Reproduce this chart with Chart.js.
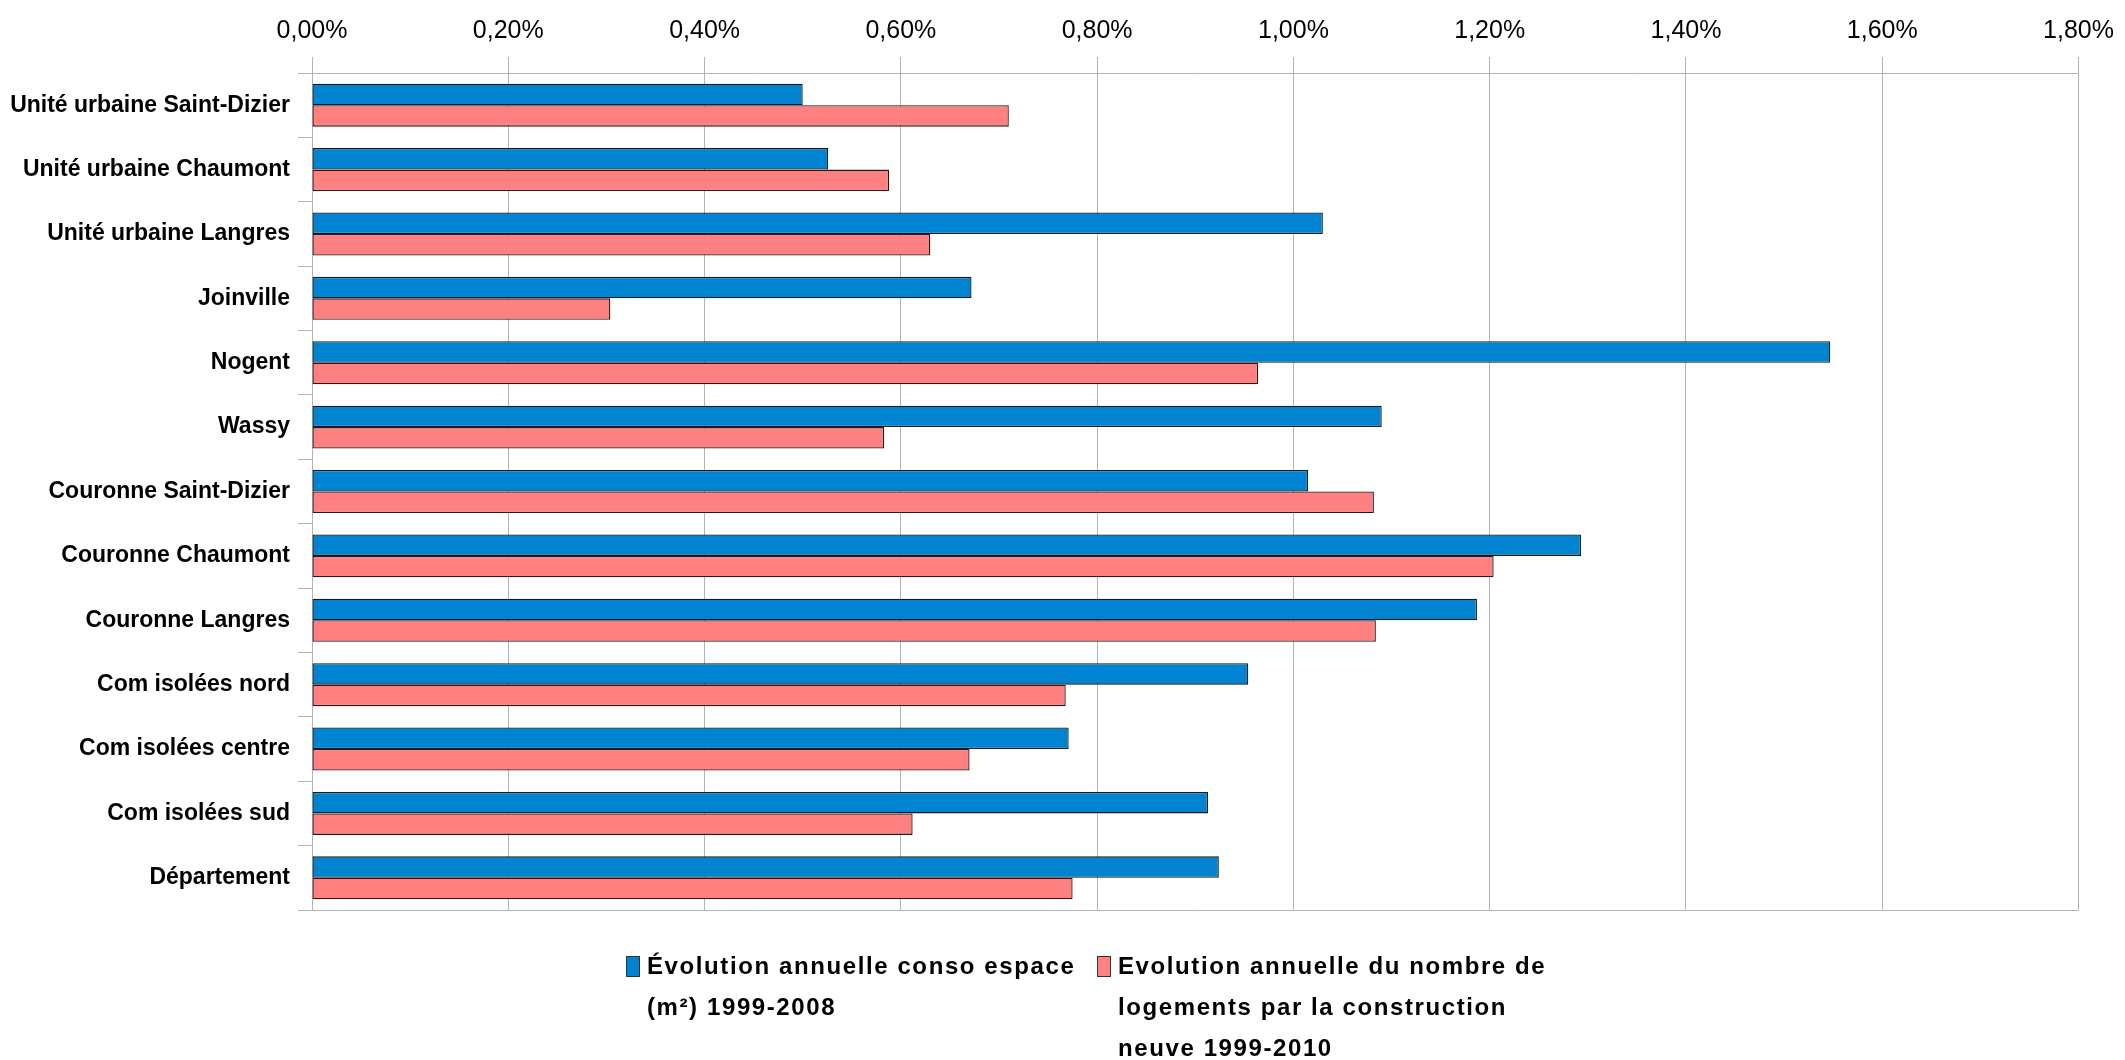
<!DOCTYPE html>
<html lang="fr">
<head>
<meta charset="utf-8">
<title>Évolution annuelle de la consommation d'espace et des logements neufs</title>
<script src="https://cdn.jsdelivr.net/npm/chart.js@4/dist/chart.umd.min.js"></script>
<style>
  html, body { margin: 0; padding: 0; background: #ffffff; }
  #wrap { position: relative; width: 2125px; height: 1060px; }
</style>
</head>
<body>
<div id="wrap"><canvas id="chart"></canvas></div>
<script>
// Territoires (ordre d'affichage, de haut en bas)
const categories = [
  'Unité urbaine Saint-Dizier',
  'Unité urbaine Chaumont',
  'Unité urbaine Langres',
  'Joinville',
  'Nogent',
  'Wassy',
  'Couronne Saint-Dizier',
  'Couronne Chaumont',
  'Couronne Langres',
  'Com isolées nord',
  'Com isolées centre',
  'Com isolées sud',
  'Département'
];

// Évolution annuelle de la consommation d'espace (m²), 1999-2008, en %
const consoEspace = [0.50, 0.526, 1.03, 0.672, 1.547, 1.09, 1.015, 1.293, 1.187, 0.954, 0.771, 0.913, 0.924];

// Évolution annuelle du nombre de logements par la construction neuve, 1999-2010, en %
const logementsNeufs = [0.71, 0.588, 0.63, 0.304, 0.964, 0.583, 1.082, 1.204, 1.084, 0.768, 0.67, 0.612, 0.775];

// Libellés de l'axe des valeurs
const xTickLabels = ['0,00%', '0,20%', '0,40%', '0,60%', '0,80%', '1,00%', '1,20%', '1,40%', '1,60%', '1,80%'];

// Libellés de légende, une ligne par élément
const legendConso = ['Évolution annuelle conso espace', '(m²) 1999-2008'];
const legendLogements = ['Evolution annuelle du nombre de', 'logements par la construction', 'neuve 1999-2010'];

const FONT = "'Liberation Sans', Arial, 'DejaVu Sans Condensed', sans-serif";
const GRID = '#b3b3b3';

// Légende dessinée sous la zone de tracé, texte sur plusieurs lignes
const bottomLegend = {
  id: 'bottomLegend',
  afterDraw(chart) {
    const ctx = chart.ctx;
    const items = [
      { ds: chart.data.datasets[0], lines: legendConso, x: 626 },
      { ds: chart.data.datasets[1], lines: legendLogements, x: 1097 }
    ];
    const firstY = 967;
    const lineStep = 41;
    ctx.save();
    ctx.font = "bold 24px " + FONT;
    ctx.textBaseline = 'middle';
    ctx.textAlign = 'left';
    if ('letterSpacing' in ctx) ctx.letterSpacing = '1.6px';
    items.forEach(it => {
      ctx.fillStyle = it.ds.backgroundColor;
      ctx.fillRect(it.x, firstY - 11, 14, 21);
      ctx.strokeStyle = '#333333';
      ctx.lineWidth = 1;
      ctx.strokeRect(it.x + 0.5, firstY - 10.5, 13, 20);
      ctx.fillStyle = '#000000';
      it.lines.forEach((t, i) => ctx.fillText(t, it.x + 21, firstY + i * lineStep));
    });
    ctx.restore();
  }
};

// Bordure basse de la zone de tracé
const plotBottomLine = {
  id: 'plotBottomLine',
  afterDatasetsDraw(chart) {
    const { ctx, chartArea } = chart;
    ctx.save();
    ctx.strokeStyle = GRID;
    ctx.lineWidth = 1;
    ctx.beginPath();
    ctx.moveTo(chartArea.left, Math.round(chartArea.bottom) + 0.5);
    ctx.lineTo(chartArea.right, Math.round(chartArea.bottom) + 0.5);
    ctx.stroke();
    ctx.restore();
  }
};

new Chart(document.getElementById('chart'), {
  type: 'bar',
  data: {
    labels: categories,
    datasets: [
      {
        label: legendConso.join(' '),
        data: consoEspace,
        backgroundColor: '#0084d1',
        borderColor: '#0b1a26',
        borderWidth: 1.3,
        borderSkipped: false,
        barPercentage: 1,
        categoryPercentage: 0.667
      },
      {
        label: legendLogements.join(' '),
        data: logementsNeufs,
        backgroundColor: '#ff8080',
        borderColor: '#331414',
        borderWidth: 1.3,
        borderSkipped: false,
        barPercentage: 1,
        categoryPercentage: 0.667
      }
    ]
  },
  options: {
    indexAxis: 'y',
    responsive: true,
    maintainAspectRatio: false,
    devicePixelRatio: 1,
    animation: false,
    layout: { autoPadding: false, padding: { left: 0, right: 39, top: 0, bottom: 150 } },
    plugins: {
      legend: { display: false },
      tooltip: { enabled: false }
    },
    scales: {
      x: {
        position: 'top',
        min: 0,
        max: 1.8,
        afterFit(scale) { scale.height = 73; },
        ticks: {
          stepSize: 0.2,
          color: '#000000',
          padding: 11,
          font: { family: FONT, size: 25 },
          callback: (v, i) => xTickLabels[i]
        },
        grid: { color: GRID, lineWidth: 1, tickLength: 16, drawTicks: true },
        border: { display: true, color: GRID }
      },
      y: {
        afterFit(scale) { scale.width = 312; },
        ticks: {
          color: '#000000',
          padding: 8,
          font: { family: FONT, size: 23, weight: 'bold' }
        },
        grid: { drawOnChartArea: false, offset: true, color: GRID, tickLength: 14 },
        border: { display: true, color: GRID }
      }
    }
  },
  plugins: [plotBottomLine, bottomLegend]
});
</script>
</body>
</html>
